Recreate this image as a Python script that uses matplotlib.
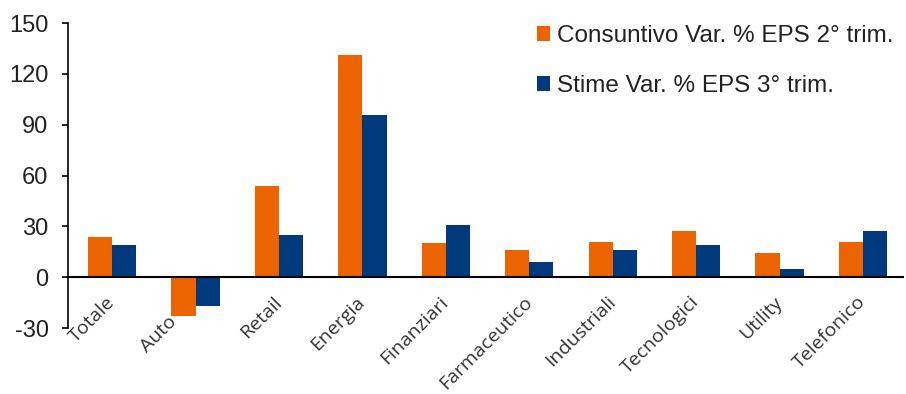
import numpy as np
import matplotlib
matplotlib.use("Agg")
from matplotlib import pyplot as plt
from matplotlib import transforms

categories = ["Totale", "Auto", "Retail", "Energia", "Finanziari",
              "Farmaceutico", "Industriali", "Tecnologici", "Utility", "Telefonico"]
consuntivo_q2 = [24, -23, 54, 131, 20, 16, 21, 27, 14, 21]
stime_q3 = [19, -17, 25, 96, 31, 9, 16, 19, 5, 27]
labels = ["Consuntivo Var. % EPS 2° trim.", "Stime Var. % EPS 3° trim."]
y_ticks = [-30, 0, 30, 60, 90, 120, 150]

ORANGE = "#EC6400"
BLUE = "#003A7D"


def main():
    fig = plt.figure(figsize=(9.06, 3.94), dpi=100)
    ax = fig.add_axes([0.075, 0.1675, 0.9217, 0.7741])

    x = np.arange(len(categories))
    w = 0.29
    ax.bar(x - w / 2, consuntivo_q2, w, color=ORANGE, label=labels[0])
    ax.bar(x + w / 2, stime_q3, w, color=BLUE, label=labels[1])

    ax.set_ylim(-30, 150)
    ax.set_xlim(-0.53, len(categories) - 0.52)
    ax.set_yticks(y_ticks)
    ax.set_yticklabels([str(t) for t in y_ticks], family="Liberation Sans",
                       fontsize=17, color="#222222")
    ax.tick_params(axis="y", direction="out", length=4, width=1.2, pad=10)

    for s in ["top", "right"]:
        ax.spines[s].set_visible(False)
    ax.spines["left"].set_linewidth(1.2)
    ax.spines["bottom"].set_position(("data", 0))
    ax.spines["bottom"].set_linewidth(1.5)

    ax.set_xticks(x)
    ax.set_xticklabels(categories, rotation=45, ha="right", va="center",
                       rotation_mode="anchor", family="Open Sans",
                       fontsize=14, color="#333333")
    ax.tick_params(axis="x", length=0, pad=16)
    # Auto label sits lower and left (pushed away by the negative bars)
    for i, lab in enumerate(ax.get_xticklabels()):
        if categories[i] == "Auto":
            lab.set_transform(lab.get_transform() + transforms.ScaledTranslation(
                -0.22, -0.2, fig.dpi_scale_trans))

    leg = ax.legend(loc="upper left", bbox_to_anchor=(0.535, 1.065), frameon=False,
                    prop={"family": "Liberation Sans", "size": 17.5},
                    handlelength=0.55, handleheight=0.55, handletextpad=0.3,
                    labelspacing=1.15)
    for t in leg.get_texts():
        t.set_color("#222222")

    fig.savefig("out.png", dpi=100)


if __name__ == "__main__":
    main()
